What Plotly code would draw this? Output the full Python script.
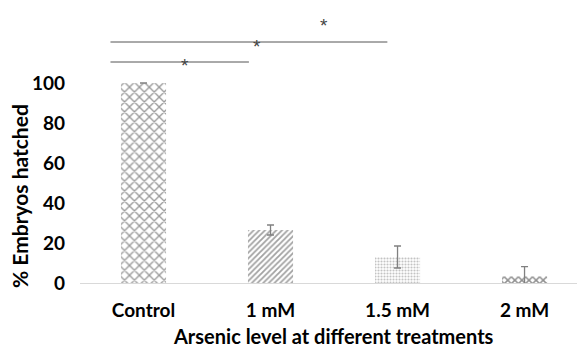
import plotly.graph_objects as go

categories = ["Control", "1 mM", "1.5 mM", "2 mM"]
values = [100, 26.5, 13, 3.2]
errors = [None, 2.5, 5.5, 5]
patterns = ["x", "/", ".", "x"]
y_ticks = [0, 20, 40, 60, 80, 100]

# significance brackets: (x0, x1, y) in category/data units
sig_lines = [(-0.26, 0.83, 110.5), (-0.26, 1.92, 120.5)]
sig_stars = [(0.33, 111), (0.89, 120.5), (1.42, 131)]

fig = go.Figure()
fig.add_trace(go.Bar(
    x=list(range(len(categories))), y=values,
    width=0.355,
    marker=dict(color="white", line=dict(width=0),
                pattern=dict(shape=patterns, fgcolor=["#333", "#444", "#888", "#222"],
                             bgcolor="white", size=[7, 4, 3, 5], solidity=[0.35, 0.45, 0.4, 0.5])),
    error_y=dict(type="data", array=[float("nan") if e is None else e for e in errors],
                 color="#808080", thickness=1.3, width=3.5, visible=True),
))

for x0, x1, y in sig_lines:
    fig.add_shape(type="line", x0=x0, x1=x1, y0=y, y1=y, xref="x", yref="y",
                  line=dict(color="#555", width=1))
for x, y in sig_stars:
    fig.add_annotation(x=x, y=y, text="*", showarrow=False, xref="x", yref="y",
                       font=dict(family="Liberation Sans", size=19, color="#444"), yshift=-4)

fig.add_annotation(text="Arsenic level at different treatments", xref="paper", yref="paper",
                   x=(325 - 72) / 505, y=(275 - 328) / 275, xanchor="center", yanchor="middle",
                   showarrow=False, font=dict(size=20, family="Lato", color="black", weight="bold"))
fig.add_annotation(text="% Embryos hatched", xref="paper", yref="paper", textangle=-90,
                   x=(11 - 72) / 505, y=(275 - 188) / 275, xanchor="center", yanchor="middle",
                   showarrow=False, font=dict(size=21, family="Lato", color="black", weight="bold"))

fig.update_layout(
    width=577, height=340,
    margin=dict(l=72, r=0, t=0, b=65, autoexpand=False),
    paper_bgcolor="white", plot_bgcolor="white",
    showlegend=False,
    font=dict(family="Lato", color="black"),
    xaxis=dict(range=[-0.5, 3.476], tickvals=list(range(len(categories))), ticktext=categories,
               showline=True, linecolor="#d9d9d9", linewidth=1, ticks="", showgrid=False,
               ticklabelstandoff=10, automargin=False,
               tickfont=dict(size=19, family="Lato", color="black", weight="bold")),
    yaxis=dict(range=[0, 137.5], tickvals=y_ticks, showgrid=False, zeroline=False,
               showline=False, ticks="", ticklabelstandoff=14, automargin=False,
               tickfont=dict(size=19, family="Lato", color="black", weight="bold")),
)

fig.write_html("out.html")
